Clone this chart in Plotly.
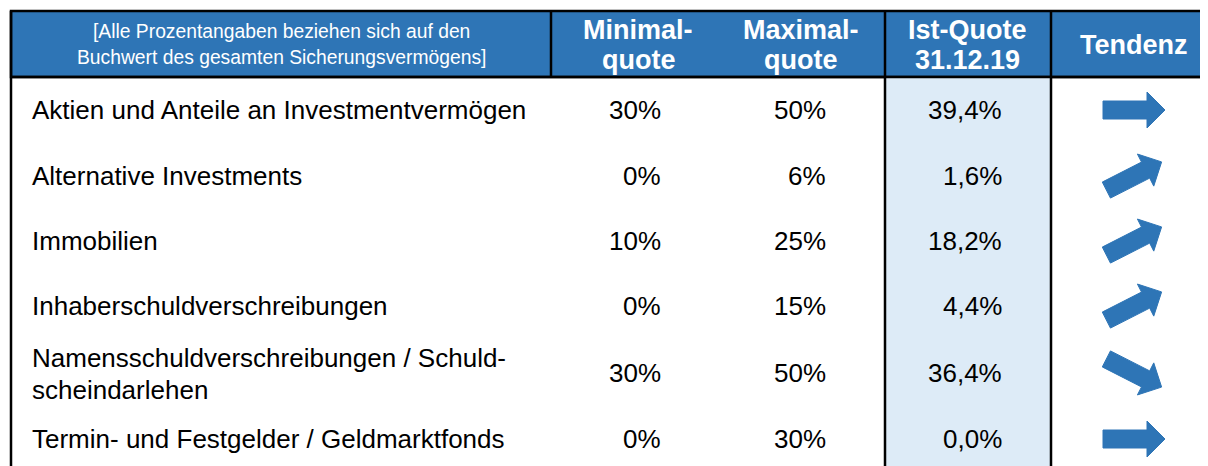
import math
import plotly.graph_objects as go

# ---------------- data ----------------
categories = [
    "Aktien und Anteile an Investmentvermögen",
    "Alternative Investments",
    "Immobilien",
    "Inhaberschuldverschreibungen",
    "Namensschuldverschreibungen / Schuld-<br>scheindarlehen",
    "Termin- und Festgelder / Geldmarktfonds",
]
minimal_quote = ["30%", "0%", "10%", "0%", "30%", "0%"]
maximal_quote = ["50%", "6%", "25%", "15%", "50%", "30%"]
ist_quote = ["39,4%", "1,6%", "18,2%", "4,4%", "36,4%", "0,0%"]
tendenz = ["gleich", "steigend", "steigend", "steigend", "fallend", "gleich"]

header_note = ["[Alle Prozentangaben beziehen sich auf den",
               "Buchwert des gesamten Sicherungsvermögens]"]
header_min = ["Minimal-", "quote"]
header_max = ["Maximal-", "quote"]
header_ist = ["Ist-Quote", "31.12.19"]
header_tend = "Tendenz"

# ---------------- layout / style ----------------
W, H = 1208, 466
OFF = 8  # default page body margin
BLUE = "#2E75B6"
LIGHT = "#DDEBF7"
FONT = "Liberation Sans, Arial, sans-serif"
row_y = [110, 176, 241, 306, 373, 439]
label_x = 30
min_x, max_x, ist_x = 663, 828, 1004
arrow_x = 1134
angle_of = {"gleich": 0.0, "steigend": 27.0, "fallend": -27.0}

fig = go.Figure()

shapes = []
shapes.append(dict(type="rect", x0=11, x1=1206, y0=11, y1=77, fillcolor=BLUE,
                   line=dict(color="black", width=2.5), layer="below"))
shapes.append(dict(type="rect", x0=885, x1=1051, y0=77, y1=H + 5, fillcolor=LIGHT,
                   line=dict(width=0), layer="below"))

def vline(x, y0, y1):
    shapes.append(dict(type="line", x0=x, x1=x, y0=y0, y1=y1,
                       line=dict(color="black", width=2.5)))
vline(11, 11, H + 5)
vline(551, 11, 77)
vline(885, 11, H + 5)
vline(1051, 11, H + 5)
shapes.append(dict(type="line", x0=11, x1=1206, y0=77, y1=77,
                   line=dict(color="black", width=2.5)))

ann = []
def text(x, y, s, size=26, color="black", bold=False, xanchor="center"):
    ann.append(dict(x=x, y=y, xref="x", yref="y", text=f"<b>{s}</b>" if bold else s,
                    showarrow=False, xanchor=xanchor, yanchor="middle",
                    font=dict(family=FONT, size=size, color=color)))

text(281, 31, header_note[0], size=19.3, color="white")
text(281, 57, header_note[1], size=19.3, color="white")
text(638, 30, header_min[0], size=27, color="white", bold=True)
text(639, 60, header_min[1], size=27, color="white", bold=True)
text(801, 30, header_max[0], size=27, color="white", bold=True)
text(801, 60, header_max[1], size=27, color="white", bold=True)
text(967, 30, header_ist[0], size=27, color="white", bold=True)
text(967, 60, header_ist[1], size=27, color="white", bold=True)
text(1134, 45, header_tend, size=27, color="white", bold=True)

for i, cat in enumerate(categories):
    y = row_y[i]
    if "<br>" in cat:
        a, b = cat.split("<br>")
        text(label_x, y - 15, a, xanchor="left")
        text(label_x, y + 17, b, xanchor="left")
    else:
        text(label_x, y, cat, xanchor="left")
    text(min_x, y, minimal_quote[i], xanchor="right")
    text(max_x, y, maximal_quote[i], xanchor="right")
    text(ist_x, y, ist_quote[i], xanchor="right")

local = [(-31, -9), (13, -9), (13, -18), (31, 0), (13, 18), (13, 9), (-31, 9), (-31, -9)]
for i, t in enumerate(tendenz):
    a = math.radians(angle_of[t])
    xs, ys = [], []
    for px, py in local:
        rx = px * math.cos(a) - py * math.sin(a)
        ry = px * math.sin(a) + py * math.cos(a)
        xs.append(arrow_x + rx)
        ys.append(row_y[i] - ry)
    fig.add_trace(go.Scatter(x=xs, y=ys, mode="lines", fill="toself",
                             fillcolor=BLUE, line=dict(color=BLUE, width=1),
                             hoverinfo="skip", showlegend=False))

fig.update_layout(
    width=W - OFF, height=H - OFF, margin=dict(l=0, r=0, t=0, b=0),
    paper_bgcolor="white", plot_bgcolor="white",
    xaxis=dict(range=[OFF, W], visible=False, fixedrange=True),
    yaxis=dict(range=[H, OFF], visible=False, fixedrange=True),
    shapes=shapes, annotations=ann, showlegend=False,
)
fig.write_html("out.html", config={"displayModeBar": False})
